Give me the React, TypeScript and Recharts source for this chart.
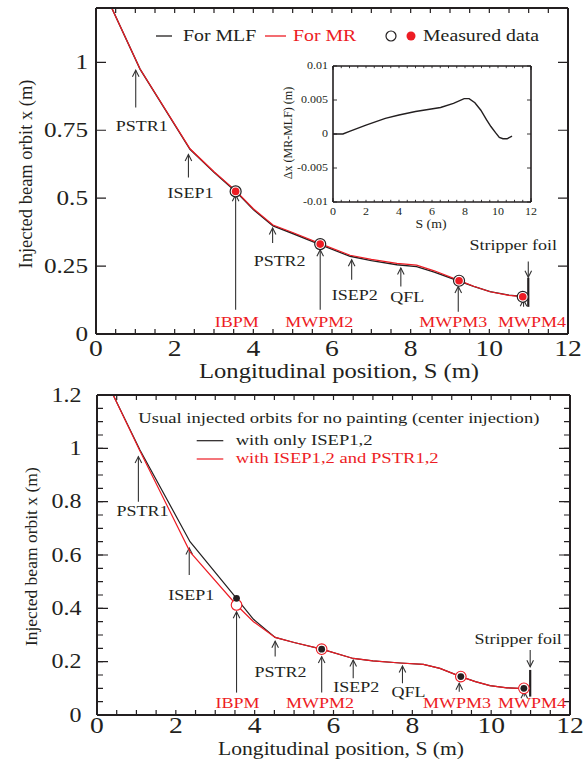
import React from "react";
import { ComposedChart, Line, XAxis, YAxis, ReferenceLine, CartesianGrid } from "recharts";

const SERIF = '"Liberation Serif", "Times New Roman", serif';
const INK = "#231f20";
const RED = "#ed1c24";
const SX = 1.2; // the figure is stretched sideways a little

// ---- top panel: orbit for MLF / MR beam ----
const orbitS = [0.4, 1.12, 2.39, 3.0, 3.55, 4.0, 4.5, 5.0, 5.7, 6.46, 7.0, 7.65, 8.15, 8.6, 9.21, 9.6, 10.02, 10.5, 10.85, 10.95];
const mlfX = [1.2, 0.975, 0.68, 0.595, 0.525, 0.458, 0.398, 0.37, 0.329, 0.286, 0.27, 0.255, 0.248, 0.228, 0.196, 0.175, 0.156, 0.143, 0.138, 0.137];
const mrX = [1.2, 0.9756, 0.6818, 0.5973, 0.5276, 0.4609, 0.4011, 0.3734, 0.3326, 0.2899, 0.2744, 0.26, 0.2533, 0.2326, 0.1982, 0.1757, 0.1556, 0.1422, 0.1375, 0.1367];
const measTopS = [3.55, 5.7, 9.23, 10.85];
const measTopX = [0.525, 0.331, 0.196, 0.137];

// inset: difference MR - MLF
const diffS = [0, 0.6, 1.0, 2.0, 3.17, 4.0, 5.0, 6.52, 7.3, 7.95, 8.25, 8.6, 8.96, 9.3, 9.57, 9.85, 10.08, 10.3, 10.55, 10.85];
const diffX = [0, 0, 0.0004, 0.0013, 0.0023, 0.0028, 0.0033, 0.0039, 0.0045, 0.0052, 0.0052, 0.0046, 0.0035, 0.0021, 0.0011, 0.0002, -0.0005, -0.0007, -0.0007, -0.0003];

// ---- bottom panel: usual orbits, no painting ----
const usualS = [0.41, 1.09, 2.36, 3.54, 3.97, 4.52, 5.0, 5.7, 6.5, 7.0, 7.69, 8.28, 8.7, 9.23, 9.6, 9.97, 10.4, 10.83, 10.95];
const isepOnlyX = [1.2, 0.994, 0.65, 0.4375, 0.359, 0.291, 0.272, 0.247, 0.212, 0.203, 0.195, 0.19, 0.175, 0.144, 0.125, 0.11, 0.102, 0.099, 0.099];
const isepPstrX = [1.2, 0.99, 0.612, 0.4125, 0.35, 0.291, 0.272, 0.247, 0.212, 0.203, 0.195, 0.19, 0.175, 0.144, 0.125, 0.11, 0.102, 0.099, 0.099];
const measBotS = [3.54, 5.7, 9.23, 10.83];
const measBotBlack = [0.4375, 0.247, 0.144, 0.1];
const measBotRed = [0.4125, 0.247, 0.144, 0.1];

// ---- device markers ----
const devices = ["PSTR1", "ISEP1", "IBPM", "PSTR2", "MWPM2", "ISEP2", "QFL", "MWPM3", "MWPM4"];
const monitors = ["IBPM", "MWPM2", "MWPM3", "MWPM4"];
const topDevS = [1.01, 2.35, 3.55, 4.49, 5.7, 6.5, 7.75, 9.21, 10.87];
const topTip = [0.971, 0.661, 0.513, 0.39, 0.31, 0.273, 0.243, 0.175, 0.126];
const topTail = [0.834, 0.576, 0.089, 0.335, 0.089, 0.2, 0.175, 0.082, 0.1];
const botDevS = [1.05, 2.34, 3.54, 4.52, 5.7, 6.5, 7.75, 9.19, 10.84];
const botTip = [0.969, 0.626, 0.387, 0.277, 0.219, 0.206, 0.184, 0.119, 0.087];
const botTail = [0.8, 0.525, 0.084, 0.219, 0.084, 0.1375, 0.119, 0.0875, 0.069];
const foilS = 10.99;
const topFoilArrow = [0.267, 0.209];
const topFoilBar = [0.207, 0.1];
const botFoilArrow = [0.244, 0.181];
const botFoilBar = [0.169, 0.069];

// ticks
const xMajor = [0, 2, 4, 6, 8, 10, 12];
const topYTicks = [0, 0.25, 0.5, 0.75, 1];
const botYMajor = [0, 0.2, 0.4, 0.6, 0.8, 1, 1.2];
const insetYTicks = [-0.01, -0.005, 0, 0.005, 0.01];
const range = (a: number, b: number, step: number) =>
  Array.from({ length: Math.round((b - a) / step) + 1 }, (_, i) => +(a + i * step).toFixed(4));
const xTicks = range(0, 12, 0.5);
const botYTicks = range(0, 1.2, 0.05);

// label nudges in px, relative to the arrow tail
const topNudge = [[6, 24], [2, 20.5], [1, 17], [7, 22.7], [-1, 17], [3, 20], [6.5, 15.3], [-5, 15.3], [8.4, 20.3]];
const botNudge = [[4, 14.5], [2, 25], [1, 15.8], [5.3, 20.3], [-1.7, 15.8], [3, 13.7], [6, 13.7], [-2.3, 16.8], [7.7, 11.8]];

const pts = (s: number[], v: number[]) => s.map((x, i) => ({ s: x, v: v[i] }));
const near = (v: number, step: number) => Math.abs(v / step - Math.round(v / step)) < 1e-6;
const fmt = (v: number) => String(v);
// a truthy but invisible tick, so the axis still hands its ticks to the grid
const ghostTick = { fill: "none", fontSize: 1 };

function Txt({ x, y, size, anchor = "middle", fill = INK, children }: any) {
  return (
    <text
      transform={`translate(${x},${y}) scale(${SX},1)`}
      textAnchor={anchor}
      fontSize={size}
      fontFamily={SERIF}
      fill={fill}
    >
      {children}
    </text>
  );
}

function xLabel(gap: number, size: number, major: (v: number) => boolean) {
  return (p: any) =>
    major(p.payload.value) ? (
      <Txt x={p.x} y={p.y + gap} size={size}>
        {fmt(p.payload.value)}
      </Txt>
    ) : (
      <g />
    );
}
function yLabel(gap: number, size: number, major: (v: number) => boolean) {
  return (p: any) =>
    major(p.payload.value) ? (
      <Txt x={p.x - gap} y={p.y + size * 0.34} size={size} anchor="end">
        {fmt(p.payload.value)}
      </Txt>
    ) : (
      <g />
    );
}

// inward tick marks: grid lines on an axis' ticks, dashed so only both ends show
function tickGrid(dir: "v" | "h", axisId: string | number, len: number, span: number, w: number) {
  const dash = `${len} ${span - 2 * len} ${len} ${span}`;
  return dir === "v" ? (
    <CartesianGrid key={`g${dir}${axisId}`} xAxisId={axisId} horizontal={false} stroke={INK} strokeWidth={w} strokeDasharray={dash} />
  ) : (
    <CartesianGrid key={`g${dir}${axisId}`} yAxisId={axisId} vertical={false} stroke={INK} strokeWidth={w} strokeDasharray={dash} />
  );
}

function arrowShape(label: string | null, color: string, dx: number, dy: number, size = 15) {
  return (p: any) => {
    const { x1, y1, x2, y2 } = p;
    const dir = y2 < y1 ? -1 : 1;
    return (
      <g>
        <line x1={x1} y1={y1} x2={x2} y2={y2} stroke="#333" strokeWidth={1.1} />
        <polyline
          points={`${x2 - 3.3},${y2 - dir * 6.5} ${x2},${y2} ${x2 + 3.3},${y2 - dir * 6.5}`}
          fill="none"
          stroke="#333"
          strokeWidth={1.1}
        />
        {label && (
          <Txt x={x1 + dx} y={y1 + dy} size={size} fill={color}>
            {label}
          </Txt>
        )}
      </g>
    );
  };
}

// frame: labelled bottom/left axes; thin top/right axes carry the major ticks
function frameAxes(o: {
  yDomain: number[];
  yTicks: number[];
  yBig: number[];
  yMajor: (v: number) => boolean;
  yWidth: number;
  xHeight: number;
  xFont: number;
  xGap: number;
  yFont: number;
  yGap: number;
  lineW: number;
}) {
  const axisLine = { stroke: INK, strokeWidth: o.lineW };
  const xMaj = (v: number) => near(v, 2);
  return [
    <XAxis
      key="xb"
      type="number"
      dataKey="s"
      domain={[0, 12]}
      ticks={xTicks}
      interval={0}
      allowDataOverflow
      height={o.xHeight}
      axisLine={axisLine}
      tickLine={false}
      tickSize={0}
      tickMargin={0}
      tick={xLabel(o.xGap, o.xFont, xMaj)}
    />,
    <XAxis
      key="xt"
      xAxisId="t"
      orientation="top"
      type="number"
      domain={[0, 12]}
      ticks={xMajor}
      interval={0}
      allowDataOverflow
      height={1}
      axisLine={axisLine}
      tickLine={false}
      tick={ghostTick}
    />,
    <YAxis
      key="yl"
      type="number"
      domain={o.yDomain}
      ticks={o.yTicks}
      interval={0}
      allowDataOverflow
      width={o.yWidth}
      axisLine={axisLine}
      tickLine={false}
      tickSize={0}
      tickMargin={0}
      tick={yLabel(o.yGap, o.yFont, o.yMajor)}
    />,
    <YAxis
      key="yr"
      yAxisId="r"
      orientation="right"
      type="number"
      domain={o.yDomain}
      ticks={o.yBig}
      interval={0}
      allowDataOverflow
      width={1}
      axisLine={axisLine}
      tickLine={false}
      tick={ghostTick}
    />,
  ];
}

function markers(s: number[], tip: number[], tail: number[], nudge: number[][], prefix: string) {
  return devices.map((name, i) => (
    <ReferenceLine
      key={`${prefix}-${name}`}
      segment={[
        { x: s[i], y: tail[i] },
        { x: s[i], y: tip[i] },
      ]}
      ifOverflow="visible"
      shape={arrowShape(name, monitors.includes(name) ? RED : INK, nudge[i][0], nudge[i][1])}
    />
  ));
}

function foil(arrow: number[], bar: number[], dx: number, dy: number, prefix: string) {
  return [
    <ReferenceLine
      key={`${prefix}-fa`}
      segment={[
        { x: foilS, y: arrow[0] },
        { x: foilS, y: arrow[1] },
      ]}
      ifOverflow="visible"
      shape={arrowShape("Stripper foil", INK, dx, dy)}
    />,
    <ReferenceLine
      key={`${prefix}-fb`}
      segment={[
        { x: foilS, y: bar[0] },
        { x: foilS, y: bar[1] },
      ]}
      ifOverflow="visible"
      stroke={INK}
      strokeWidth={2.2}
    />,
  ];
}

const orbitSpan = [0, 1.2];

function TopPanel() {
  // plot box 96..568 x 8..334
  const W = 472;
  const H = 326;
  return (
    <ComposedChart width={587} height={392} margin={{ top: 7, right: 18, left: 0, bottom: 0 }}>
      {frameAxes({
        yDomain: orbitSpan,
        yTicks: topYTicks,
        yBig: topYTicks,
        yMajor: () => true,
        yWidth: 96,
        xHeight: 58,
        xFont: 23,
        xGap: 22,
        yFont: 21,
        yGap: 8,
        lineW: 2,
      })}
      {tickGrid("v", 0, 5, H, 1.2)}
      {tickGrid("v", "t", 10, H, 1.2)}
      {tickGrid("h", "r", 10, W, 1.2)}
      {markers(topDevS, topTip, topTail, topNudge, "t")}
      {foil(topFoilArrow, topFoilBar, -15, -11.7, "t")}
      <Line data={pts(orbitS, mlfX)} dataKey="v" stroke={INK} strokeWidth={1.4} dot={false} activeDot={false} isAnimationActive={false} />
      <Line data={pts(orbitS, mrX)} dataKey="v" stroke={RED} strokeWidth={1.2} dot={false} activeDot={false} isAnimationActive={false} />
      <Line
        data={pts(measTopS, measTopX)}
        dataKey="v"
        stroke="none"
        dot={{ r: 5.5, fill: "#fff", stroke: INK, strokeWidth: 1.2 }}
        activeDot={false}
        isAnimationActive={false}
      />
      <Line
        data={pts(measTopS, measTopX)}
        dataKey="v"
        stroke="none"
        dot={{ r: 3.8, fill: RED, stroke: "none" }}
        activeDot={false}
        isAnimationActive={false}
      />
      <g>
        <line x1={156} y1={36} x2={172} y2={36} stroke={INK} strokeWidth={1.3} />
        <Txt x={183} y={41} size={16.5} anchor="start">For MLF</Txt>
        <line x1={265} y1={36} x2={286} y2={36} stroke={RED} strokeWidth={1.3} />
        <Txt x={293} y={41} size={16.5} anchor="start" fill={RED}>For MR</Txt>
        <circle cx={391} cy={36} r={5} fill="none" stroke={INK} strokeWidth={1.2} />
        <circle cx={411} cy={36} r={4.5} fill={RED} />
        <Txt x={423} y={41} size={16.5} anchor="start">Measured data</Txt>
      </g>
      <text transform="translate(32,174) rotate(-90)" textAnchor="middle" fontSize={18.5} fontFamily={SERIF} fill={INK}>
        Injected beam orbit x (m)
      </text>
      <Txt x={339} y={378} size={20.5}>Longitudinal position, S (m)</Txt>
    </ComposedChart>
  );
}

function Inset() {
  const insetLine = { stroke: INK, strokeWidth: 1.6 };
  const dSpan = [-0.01, 0.01];
  const xMaj = (v: number) => near(v, 2);
  // plot box 333..531 x 66..202
  const W = 198;
  const H = 136;
  return (
    <ComposedChart width={260} height={180} margin={{ top: 10, right: 8, left: 0, bottom: 0 }}>
      <XAxis
        type="number"
        dataKey="s"
        domain={[0, 12]}
        ticks={xTicks}
        interval={0}
        allowDataOverflow
        height={33}
        axisLine={insetLine}
        tickLine={false}
        tickSize={0}
        tickMargin={0}
        tick={xLabel(13, 10, xMaj)}
      />
      <XAxis
        xAxisId="t"
        orientation="top"
        type="number"
        domain={[0, 12]}
        ticks={xMajor}
        interval={0}
        allowDataOverflow
        height={1}
        axisLine={insetLine}
        tickLine={false}
        tick={ghostTick}
      />
      <YAxis
        type="number"
        domain={dSpan}
        ticks={insetYTicks}
        interval={0}
        allowDataOverflow
        width={53}
        axisLine={insetLine}
        tickLine={false}
        tickSize={0}
        tickMargin={0}
        tick={yLabel(5, 10, () => true)}
      />
      <YAxis
        yAxisId="r"
        orientation="right"
        type="number"
        domain={dSpan}
        ticks={insetYTicks}
        interval={0}
        allowDataOverflow
        width={1}
        axisLine={insetLine}
        tickLine={false}
        tick={ghostTick}
      />
      {tickGrid("v", 0, 2.2, H, 0.9)}
      {tickGrid("v", "t", 4, H, 0.9)}
      {tickGrid("h", "r", 4, W, 0.9)}
      <Line data={pts(diffS, diffX)} dataKey="v" stroke={INK} strokeWidth={1.4} dot={false} activeDot={false} isAnimationActive={false} />
      <text transform="translate(12,78) rotate(-90)" textAnchor="middle" fontSize={12} fontFamily={SERIF} fill={INK}>
        Δx (MR-MLF) (m)
      </text>
      <Txt x={151} y={173} size={11.5}>S (m)</Txt>
    </ComposedChart>
  );
}

function BottomPanel() {
  const yMaj = (v: number) => near(v, 0.2);
  // plot box 97..570 x 15..335 (page 395..715)
  const W = 473;
  const H = 320;
  return (
    <ComposedChart width={587} height={383} margin={{ top: 14, right: 16, left: 0, bottom: 0 }}>
      {frameAxes({
        yDomain: orbitSpan,
        yTicks: botYTicks,
        yBig: botYMajor,
        yMajor: yMaj,
        yWidth: 97,
        xHeight: 48,
        xFont: 23,
        xGap: 18,
        yFont: 20,
        yGap: 15.5,
        lineW: 2,
      })}
      {tickGrid("v", 0, 5, H, 1.2)}
      {tickGrid("v", "t", 11, H, 1.2)}
      {tickGrid("h", 0, 6, W, 1.2)}
      {tickGrid("h", "r", 11, W, 1.2)}
      {markers(botDevS, botTip, botTail, botNudge, "b")}
      {foil(botFoilArrow, botFoilBar, -12, -5.5, "b")}
      <Line data={pts(usualS, isepOnlyX)} dataKey="v" stroke={INK} strokeWidth={1.2} dot={false} activeDot={false} isAnimationActive={false} />
      <Line data={pts(usualS, isepPstrX)} dataKey="v" stroke={RED} strokeWidth={1.2} dot={false} activeDot={false} isAnimationActive={false} />
      <Line
        data={pts(measBotS, measBotRed)}
        dataKey="v"
        stroke="none"
        dot={{ r: 5.3, fill: "#fff", stroke: RED, strokeWidth: 1.1 }}
        activeDot={false}
        isAnimationActive={false}
      />
      <Line
        data={pts(measBotS, measBotBlack)}
        dataKey="v"
        stroke="none"
        dot={{ r: 3.4, fill: INK, stroke: "none" }}
        activeDot={false}
        isAnimationActive={false}
      />
      <g>
        <Txt x={138.3} y={42.7} size={15.5} anchor="start">
          Usual injected orbits for no painting (center injection)
        </Txt>
        <line x1={196.7} y1={60.7} x2={223.3} y2={60.7} stroke={INK} strokeWidth={1.2} />
        <Txt x={235.7} y={65} size={15.5} anchor="start">with only ISEP1,2</Txt>
        <line x1={196.7} y1={79} x2={223.3} y2={79} stroke={RED} strokeWidth={1.2} />
        <Txt x={235.7} y={83} size={15.5} anchor="start" fill={RED}>with ISEP1,2 and PSTR1,2</Txt>
      </g>
      <text transform="translate(37,176.7) rotate(-90)" textAnchor="middle" fontSize={17.5} fontFamily={SERIF} fill={INK}>
        Injected beam orbit x (m)
      </text>
      <Txt x={341} y={375.4} size={18}>Longitudinal position, S (m)</Txt>
    </ComposedChart>
  );
}

export default function App() {
  return (
    <div style={{ position: "absolute", left: 0, top: 0, width: 587, height: 763, background: "#fff", fontFamily: SERIF }}>
      <div style={{ position: "absolute", left: 0, top: 0 }}>
        <TopPanel />
      </div>
      <div style={{ position: "absolute", left: 0, top: 380 }}>
        <BottomPanel />
      </div>
      <div style={{ position: "absolute", left: 280, top: 55 }}>
        <Inset />
      </div>
    </div>
  );
}
